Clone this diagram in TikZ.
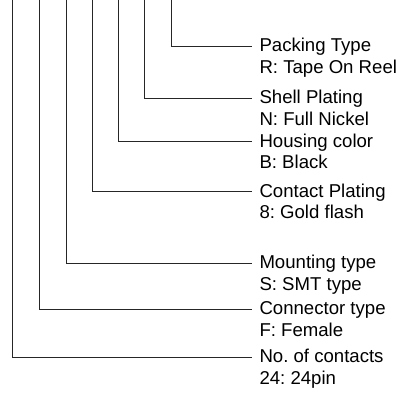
\documentclass[tikz,border=0pt]{standalone}
\usepackage{fontspec}
\setmainfont{Liberation Sans}
\frenchspacing
\begin{document}
\begin{tikzpicture}[x=1pt,y=-1pt,
  lead/.style={draw=black!85,line width=1pt},
  lbl/.style={anchor=base west,inner sep=0pt,align=left,font=\fontsize{18.6}{21.7}\selectfont\frenchspacing}]
\useasboundingbox (0,0) rectangle (406,398);
% top ends of the leads
\coordinate (pT) at (171,-1);
\coordinate (sT) at (144,-1);
\coordinate (hT) at (118.3,-1);
\coordinate (cT) at (92.5,-1);
\coordinate (mT) at (66,-1);
\coordinate (tT) at (39.7,-1);
\coordinate (nT) at (12.8,-1);
% right ends of the leads
\coordinate (pE) at (252.3,46.7);
\coordinate (sE) at (252.3,98.3);
\coordinate (hE) at (252.3,141.7);
\coordinate (cE) at (252.3,191.7);
\coordinate (mE) at (252.3,263.3);
\coordinate (tE) at (252.3,309);
\coordinate (nE) at (252.3,357.3);
% labels (anchor = baseline of the second line)
\node[lbl] (p) at (259.3,73.7) {Packing Type\\R: Tape On Reel};
\node[lbl] (s) at (259.3,125.3) {Shell Plating\\N: Full Nickel};
\node[lbl] (h) at (259.3,168.7) {Housing color\\B: Black};
\node[lbl] (c) at (259.3,218.7) {Contact Plating\\8: Gold flash};
\node[lbl] (m) at (259.3,290.3) {Mounting type\\S: SMT type};
\node[lbl] (t) at (259.3,336) {Connector type\\F: Female};
\node[lbl] (n) at (259.3,384.3) {No. of contacts\\24: 24pin};
% leads
\draw[lead] (pT) |- (pE);
\draw[lead] (sT) |- (sE);
\draw[lead] (hT) |- (hE);
\draw[lead] (cT) |- (cE);
\draw[lead] (mT) |- (mE);
\draw[lead] (tT) |- (tE);
\draw[lead] (nT) |- (nE);
\end{tikzpicture}
\end{document}
